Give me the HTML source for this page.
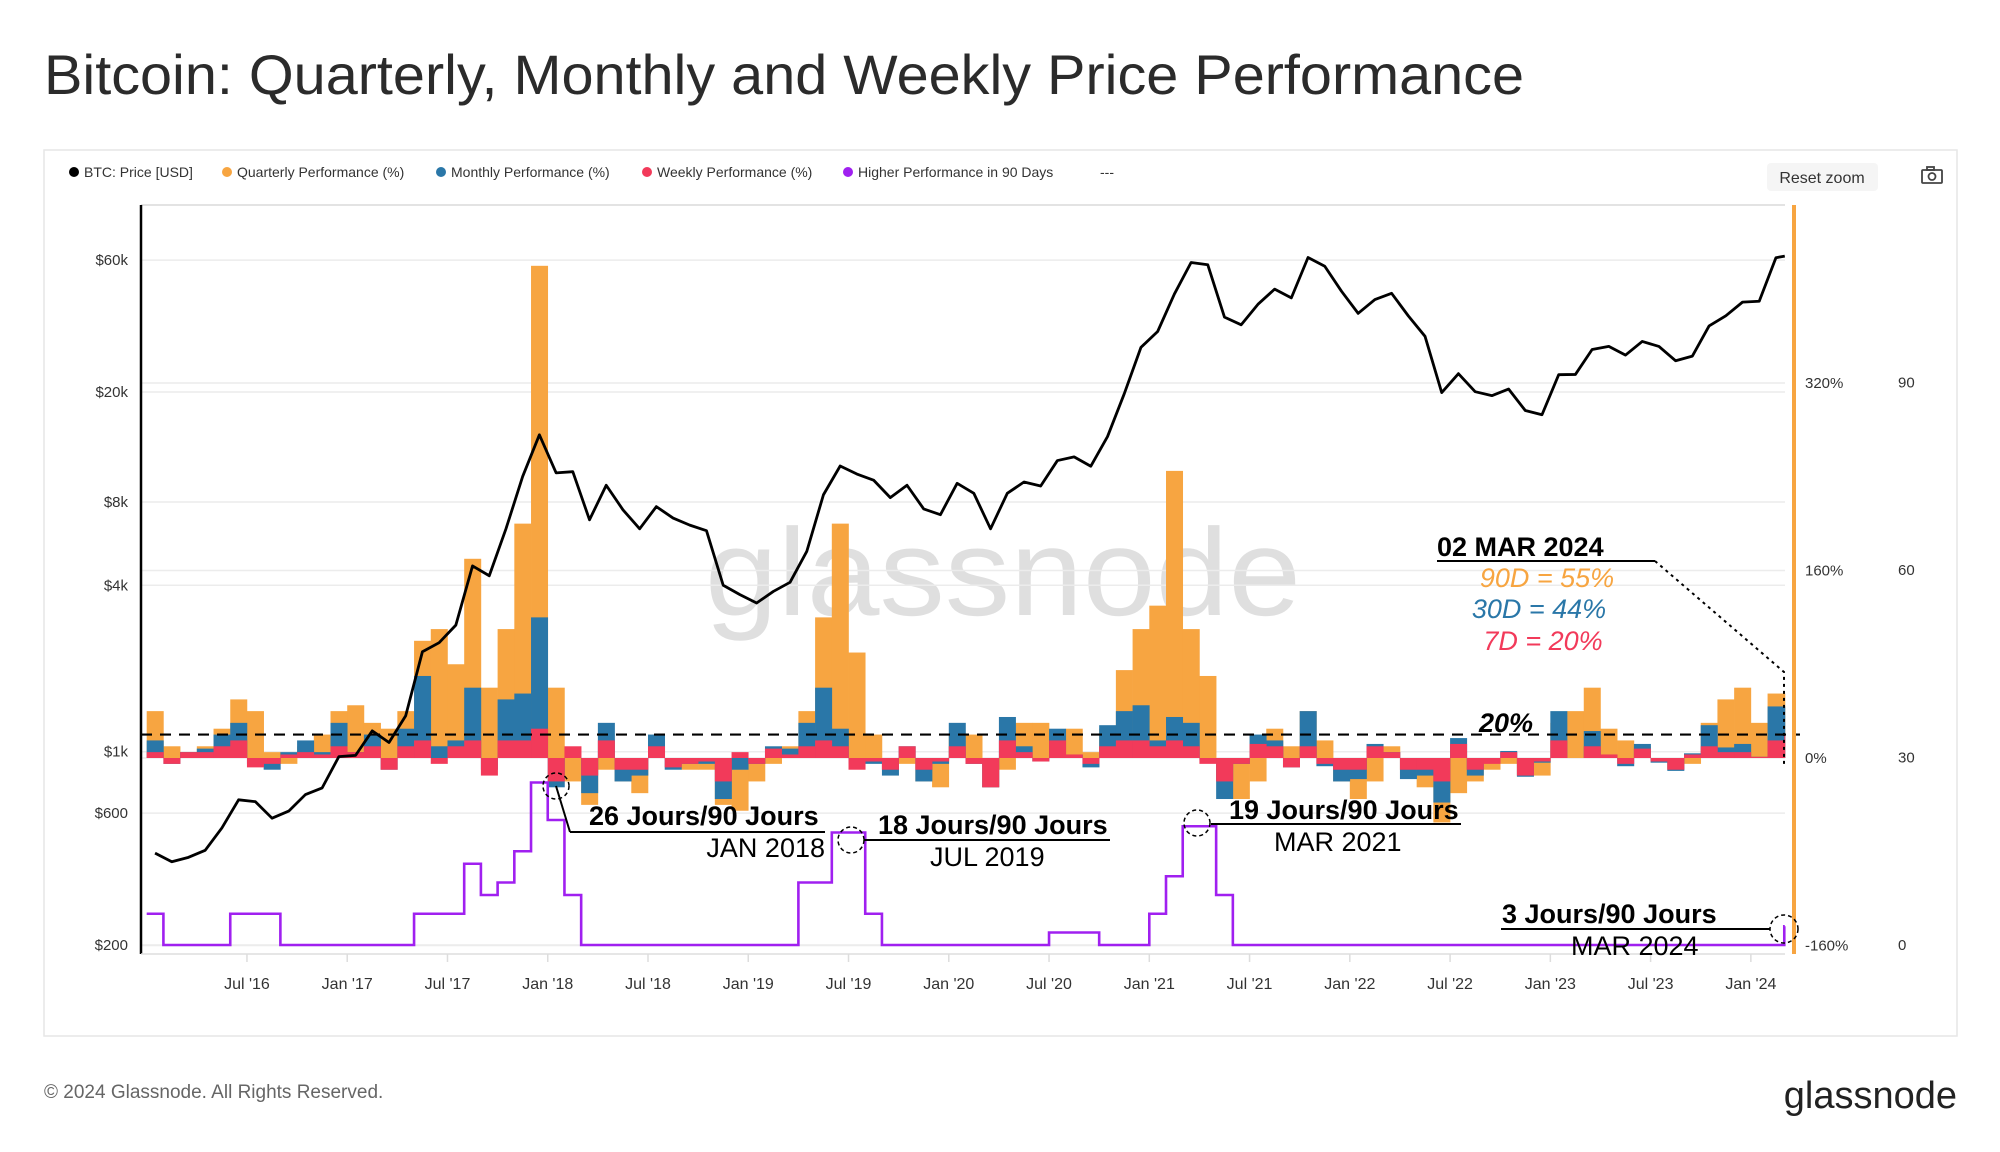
<!DOCTYPE html>
<html><head><meta charset="utf-8"><style>
html,body{margin:0;padding:0;background:#fff;width:2000px;height:1152px;overflow:hidden}
svg{display:block;font-family:"Liberation Sans",sans-serif}
</style></head><body>
<svg id="chart" width="2000" height="1152" viewBox="0 0 2000 1152">
<text x="44" y="94" font-size="56" fill="#2b2b2b" textLength="1480" lengthAdjust="spacingAndGlyphs">Bitcoin: Quarterly, Monthly and Weekly Price Performance</text>
<rect x="44" y="150" width="1913" height="886" fill="#fff" stroke="#e6e6e6" stroke-width="1.5"/>
<g id="legend" font-size="14" fill="#333">
 <g><circle cx="74" cy="172" r="5" fill="#000"/><text x="84" y="177">BTC: Price [USD]</text></g>
 <g><circle cx="227" cy="172" r="5" fill="#f7a541"/><text x="237" y="177">Quarterly Performance (%)</text></g>
 <g><circle cx="441" cy="172" r="5" fill="#2a77a8"/><text x="451" y="177">Monthly Performance (%)</text></g>
 <g><circle cx="647" cy="172" r="5" fill="#f23a5a"/><text x="657" y="177">Weekly Performance (%)</text></g>
 <g><circle cx="848" cy="172" r="5" fill="#a020f0"/><text x="858" y="177">Higher Performance in 90 Days</text></g>
 <text x="1100" y="177">---</text>
</g>
<g><rect x="1767" y="163" width="111" height="28" rx="4" fill="#f5f5f5"/><text x="1822" y="183" font-size="16" fill="#333" text-anchor="middle">Reset zoom</text></g>
<g fill="none" stroke="#444" stroke-width="1.8"><rect x="1922" y="170" width="20" height="13" rx="1"/><circle cx="1932" cy="176.5" r="3.5"/><rect x="1927" y="167" width="7" height="3"/></g>
<text x="1003" y="615" font-size="124" fill="#d8d8d8" opacity="0.8" text-anchor="middle" textLength="596" lengthAdjust="spacingAndGlyphs">glassnode</text>
<g id="grid"></g>
<g id="bars"></g>
<g id="lines"></g>
<g id="axes"></g>
<g id="annot" font-size="27">
 <text x="1479" y="732" font-weight="bold" font-style="italic">20%</text>
 <text x="589" y="825" font-weight="bold">26 Jours/90 Jours</text>
 <line x1="570" y1="832" x2="825" y2="832" stroke="#000" stroke-width="2"/>
 <line x1="556" y1="786" x2="570" y2="832" stroke="#000" stroke-width="2"/>
 <circle cx="556" cy="786" r="13" fill="none" stroke="#000" stroke-width="1.5" stroke-dasharray="4 3"/>
 <text x="825" y="857" text-anchor="end">JAN 2018</text>
 <text x="878" y="834" font-weight="bold">18 Jours/90 Jours</text>
 <line x1="864" y1="840" x2="1110" y2="840" stroke="#000" stroke-width="2"/>
 <circle cx="851" cy="840" r="13" fill="none" stroke="#000" stroke-width="1.5" stroke-dasharray="4 3"/>
 <text x="930" y="866">JUL 2019</text>
 <text x="1229" y="819" font-weight="bold">19 Jours/90 Jours</text>
 <line x1="1211" y1="824" x2="1461" y2="824" stroke="#000" stroke-width="2"/>
 <circle cx="1197" cy="823" r="13" fill="none" stroke="#000" stroke-width="1.5" stroke-dasharray="4 3"/>
 <text x="1274" y="851">MAR 2021</text>
 <text x="1502" y="923" font-weight="bold">3 Jours/90 Jours</text>
 <line x1="1501" y1="929" x2="1770" y2="929" stroke="#000" stroke-width="2"/>
 <circle cx="1784" cy="929" r="14" fill="none" stroke="#000" stroke-width="1.5" stroke-dasharray="4 3"/>
 <text x="1571" y="955">MAR 2024</text>
 <text x="1437" y="556" font-weight="bold">02 MAR 2024</text>
 <line x1="1437" y1="561" x2="1655" y2="561" stroke="#000" stroke-width="2"/>
 <polyline points="1655,561 1784,672 1784,767" fill="none" stroke="#000" stroke-width="2" stroke-dasharray="3 4"/>
 <text x="1547" y="587" fill="#f7a541" font-style="italic" text-anchor="middle">90D = 55%</text>
 <text x="1539" y="618" fill="#2a77a8" font-style="italic" text-anchor="middle">30D = 44%</text>
 <text x="1543" y="650" fill="#f23a5a" font-style="italic" text-anchor="middle">7D = 20%</text>
</g>
<text x="44" y="1098" font-size="19" fill="#666">© 2024 Glassnode. All Rights Reserved.</text>
<text x="1957" y="1108" font-size="38" fill="#222" text-anchor="end">glassnode</text>
</svg>
<script>
const price=[430,400,415,440,530,670,660,575,610,700,740,960,
970,1190,1080,1350,2300,2480,2870,4700,4330,6400,9900,14000,
10200,10300,6900,9200,7500,6400,7700,7000,6600,6300,4000,3700,
3450,3800,4100,5300,8500,10800,10100,9600,8300,9200,7550,7200,
9350,8600,6400,8600,9450,9140,11300,11650,10780,13800,19700,29000,
33100,45200,58800,57700,37300,35000,41500,47100,43800,61300,57000,46300,
38500,43200,45500,37700,31800,19900,23300,20050,19400,20500,17150,16550,
23100,23150,28500,29250,27200,30470,29230,25940,26970,34660,37720,42280,
42580,61200,62000];
const quarterly=[40,10,5,10,25,50,40,5,-5,10,20,40,
45,30,25,40,100,110,80,170,60,110,200,420,
60,-20,-40,-10,-20,-30,10,0,-10,-10,-40,-45,
-20,-5,10,40,120,200,90,20,-10,-5,-20,-25,
20,20,-25,-10,30,30,20,25,5,25,75,110,
130,245,110,70,-20,-35,-20,25,10,40,15,-20,
-35,-20,10,-10,-25,-55,-30,-20,-10,-5,-15,-15,
30,40,60,25,15,10,0,-10,-5,30,50,60,
30,55,55];
const monthly=[15,-5,5,8,20,30,-5,-10,5,15,5,30,
5,20,-10,25,70,10,15,60,-10,50,55,120,
-25,0,-30,30,-20,-15,20,-10,-5,-5,-35,-10,
-5,10,8,30,60,25,-5,-5,-15,10,-20,-5,
30,-5,-25,35,10,-3,25,3,-8,28,40,45,
15,35,30,-2,-35,-5,20,15,-8,40,-7,-20,
-18,12,5,-18,-15,-38,17,-15,-3,6,-16,-4,
40,0,23,3,-7,12,-4,-11,4,28,9,12,
1,44,44];
const weekly=[5,-5,5,5,10,15,-8,-5,3,5,3,10,
5,10,-10,10,15,-5,10,15,-15,15,15,25,
-20,10,-15,15,-10,-10,10,-8,-5,-3,-20,5,
-5,8,3,10,15,10,-10,-3,-10,10,-10,-3,
10,-5,-25,15,5,-3,15,3,-5,10,15,15,
10,15,10,-5,-20,-5,12,10,-8,10,-5,-10,
-10,10,5,-10,-10,-20,12,-10,-5,5,-15,-3,
15,0,10,3,-5,8,-3,-10,3,10,5,5,
1,15,20];
const higher=[5,0,0,0,0,5,5,5,0,0,0,0,
0,0,0,0,5,5,5,13,8,10,15,26,
20,8,0,0,0,0,0,0,0,0,0,0,
0,0,0,10,10,18,18,5,0,0,0,0,
0,0,0,0,0,0,2,2,2,0,0,0,
5,11,19,19,8,0,0,0,0,0,0,0,
0,0,0,0,0,0,0,0,0,0,0,0,
0,0,0,0,0,0,0,0,0,0,0,0,
0,0,3];
const priceTicks=[200,600,1000,4000,8000,20000,60000];
const priceTickLabels=["$200","$600","$1k","$4k","$8k","$20k","$60k"];
const pctTicks=[-160,0,160,320];
const pctTickLabels=["-160%","0%","160%","320%"];
const countTicks=[0,30,60,90];
const dateTickLabels=["Jul '16","Jan '17","Jul '17","Jan '18","Jul '18","Jan '19","Jul '19","Jan '20","Jul '20","Jan '21","Jul '21","Jan '22","Jul '22","Jan '23","Jul '23","Jan '24"];
const dateTickMonths=[6,12,18,24,30,36,42,48,54,60,66,72,78,84,90,96];
const threshold=20;

const NS="http://www.w3.org/2000/svg";
const X0=146.7,MW=16.71,PL=141,PR=1785,PT=205,PB=954;
const xM=t=>X0+t*MW;
const yP=p=>945-(Math.log10(p)-Math.log10(200))*276.5;
const yPct=v=>758-v*(187.5/160);
const yC=c=>945-c*(187.5/30);
function mk(tag,attrs,parent){const e=document.createElementNS(NS,tag);for(const k in attrs)e.setAttribute(k,attrs[k]);parent.appendChild(e);return e;}
const grid=document.getElementById('grid'),bars=document.getElementById('bars'),lines=document.getElementById('lines'),axes=document.getElementById('axes');
mk('line',{x1:PL,y1:PT,x2:PR,y2:PT,stroke:'#e3e3e3','stroke-width':2},grid);
priceTicks.forEach(p=>{const l=mk('line',{x1:PL,y1:yP(p),x2:PR,y2:yP(p),stroke:'#ececec','stroke-width':1.5},grid);

});
pctTicks.forEach(v=>{const l=mk('line',{x1:PL,y1:yPct(v),x2:PR,y2:yPct(v),stroke:'#ececec','stroke-width':1.5},grid);

});
dateTickMonths.forEach(m=>{const l=mk('line',{x1:xM(m),y1:PB,x2:xM(m),y2:PB+8,stroke:'#ddd','stroke-width':1.5},grid);

});
function series(arr,color,name){arr.forEach((v,i)=>{const x=xM(i),w=(i===arr.length-1)?Math.max(1,xM(98.03)-x):MW+0.3;const y0=yPct(0),y1=yPct(v);
const r=mk('rect',{x:x,y:Math.min(y0,y1),width:w,height:Math.abs(y1-y0),fill:color},bars);

});}
series(quarterly,'#f7a541','bar-quarterly');
series(monthly,'#2a77a8','bar-monthly');
series(weekly,'#f23a5a','bar-weekly');
const th=mk('line',{x1:PL,y1:yPct(threshold),x2:1800,y2:yPct(threshold),stroke:'#000','stroke-width':2.2,'stroke-dasharray':'11 8'},lines);


let d='';higher.forEach((c,i)=>{const xa=xM(i),xb=xM(Math.min(i+1,98.03));d+=(i?'L':'M')+xa+','+yC(c)+'L'+xb+','+yC(c);});
const hp=mk('path',{d:d,fill:'none',stroke:'#a020f0','stroke-width':2.6},lines);


const pts=price.map((p,i)=>xM(Math.min(i+0.5,98.03))+','+yP(p)).join(' ');
const pl=mk('polyline',{points:pts,fill:'none',stroke:'#000','stroke-width':2.8,'stroke-linejoin':'round'},lines);


mk('line',{x1:PL,y1:PT,x2:PL,y2:PB,stroke:'#000','stroke-width':2.5},axes);
const ob=mk('line',{x1:1794,y1:PT,x2:1794,y2:PB,stroke:'#f7a541','stroke-width':4},axes);


mk('line',{x1:PL,y1:PB,x2:PR,y2:PB,stroke:'#ddd','stroke-width':1.5},axes);
priceTicks.forEach((p,i)=>{const t=mk('text',{x:128,y:yP(p)+5,'font-size':15,fill:'#333','text-anchor':'end'},axes);t.textContent=priceTickLabels[i];

});
pctTicks.forEach((v,i)=>{const t=mk('text',{x:1805,y:yPct(v)+5,'font-size':15,fill:'#333'},axes);t.textContent=pctTickLabels[i];

});
countTicks.forEach(c=>{const t=mk('text',{x:1898,y:yC(c)+5,'font-size':15,fill:'#333'},axes);t.textContent=String(c);

});
dateTickLabels.forEach((s,i)=>{const t=mk('text',{x:xM(dateTickMonths[i]),y:989,'font-size':16,fill:'#333','text-anchor':'middle'},axes);t.textContent=s;

});
</script>
</body></html>
